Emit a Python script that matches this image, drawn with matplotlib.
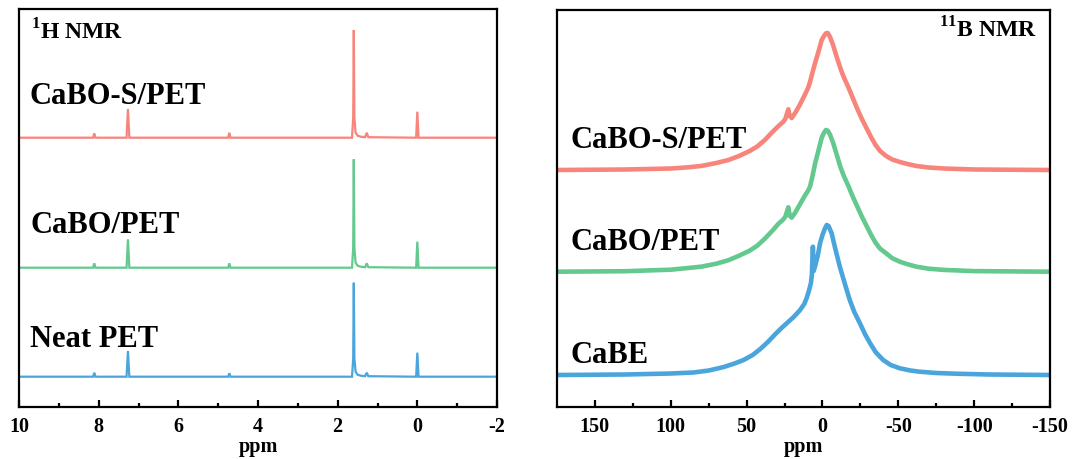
import matplotlib
matplotlib.use("Agg")
import matplotlib.pyplot as plt
from matplotlib.ticker import FixedLocator

plt.rcParams['font.family'] = ['Liberation Serif', 'DejaVu Serif']
plt.rcParams['font.weight'] = 'bold'
plt.rcParams['axes.unicode_minus'] = False
plt.rcParams['mathtext.fontset'] = 'custom'
plt.rcParams['mathtext.rm'] = 'Liberation Serif:bold'
plt.rcParams['mathtext.bf'] = 'Liberation Serif:bold'

# ---------------- 1H NMR data ----------------
h1_ppm = [10.0, 8.14, 8.11, 8.08, 7.30, 7.265, 7.23, 4.75, 4.72, 4.69,
          1.64, 1.61, 1.595, 1.58, 1.55, 1.50, 1.42, 1.31, 1.27, 1.23,
          0.03, 0.0, -0.03, -2.0]
h1_red = [0, 0, 4.4, 0, 0, 28.7, 0, 0, 5.0, 0,
          0, 20, 107.7, 20, 5, 2, 1, 0.5, 5.0, 0.5,
          0, 26, 0, 0]
h1_green = [0, 0, 4.4, 0, 0, 28.4, 0, 0, 4.4, 0,
            0, 20, 108.4, 20, 5, 2, 1, 0.5, 4.4, 0.5,
            0, 26, 0, 0]
h1_blue = [0, 0, 4.0, 0, 0, 25.7, 0, 0, 3.5, 0,
           0, 18, 94.0, 18, 5, 2, 1, 0.5, 4.0, 0.5,
           0, 24, 0, 0]
h1_offsets = [269.3, 139.3, 30.3]
h1_names = ["CaBO-S/PET", "CaBO/PET", "Neat PET"]

# ---------------- 11B NMR data ----------------
b_red_ppm = [175, 130, 100, 90, 80, 70, 62, 55, 48, 43,
             38, 33, 29, 26, 24.5, 22.5, 21.6, 20.3, 18, 15,
             12, 9.5, 8.2, 6.5, 4.9, 2.5, 0.5, -1, -2.3, -3.5,
             -5, -7, -9.4, -12, -14, -17, -20, -23, -26, -29,
             -32, -35, -38, -42, -46, -51, -56, -62, -70, -80,
             -100, -150]
b_red_int = [0, 0.5, 1.5, 2.5, 4, 7, 10, 14, 19, 23.5,
             30, 38, 44, 48, 51, 60.7, 54, 52, 57, 65,
             74, 82, 88, 98, 106.7, 119, 130, 134, 136.7, 137,
             133, 125, 113, 101, 93, 83, 72, 61, 51, 42,
             33, 25, 19, 14, 10.5, 8, 6, 4, 2.5, 1.5,
             0.5, 0]
b_green_ppm = b_red_ppm
b_green_int = [0, 0.5, 2, 3.5, 5, 8, 11.5, 16, 21, 26,
               33, 41, 48, 52, 55, 64.4, 56, 54, 59, 67,
               75, 81, 85, 96, 108, 122, 134, 139, 141.7, 141,
               137, 129, 117, 104, 96, 86, 75, 65, 55, 46,
               37, 29, 23, 18.4, 13.5, 10, 7.5, 5, 3, 1.8,
               0.6, 0]
b_blue_ppm = [175, 130, 100, 85, 75, 65, 58, 52, 46, 41,
              36, 31, 27, 23, 19, 15, 12, 10.4, 8.8, 7.6,
              7.0, 6.3, 5.8, 5.0, 3, 1.6, 0, -1.5, -2.8, -4,
              -6, -8.5, -11.5, -15, -18, -21, -24.7, -28, -31.3, -35,
              -40, -45, -51, -58, -64, -75, -90, -110, -150]
b_blue_int = [0, 0.5, 1.5, 2.5, 4.5, 8, 11.5, 15, 20, 26,
              33, 41, 47, 52.5, 58, 64.5, 71, 77, 85, 92,
              100, 128.3, 104, 108, 120, 131.7, 140, 146, 150, 149,
              142, 126, 108, 90, 75, 63, 51.7, 41, 32, 23,
              15, 10, 6.7, 4.5, 3.3, 2, 1.2, 0.5, 0]
b_offsets = [237.0, 135.3, 32.0]
b_names = ["CaBO-S/PET", "CaBO/PET", "CaBE"]

colors = ["#F8857C", "#63C98F", "#4AA5DC"]

h1_ticks = [10, 8, 6, 4, 2, 0, -2]
h1_minor = [9, 7, 5, 3, 1, -1]
b_ticks = [150, 100, 50, 0, -50, -100, -150]
b_minor = [125, 75, 25, -25, -75, -125]

W, H = 1074, 459
fig = plt.figure(figsize=(W / 100, H / 100), dpi=100)
ax1 = fig.add_axes([19 / W, (H - 407) / H, 478 / W, 398 / H])
ax2 = fig.add_axes([557 / W, (H - 407) / H, 493 / W, 397 / H])

# 1H panel
for ints, off, c in zip([h1_red, h1_green, h1_blue], h1_offsets, colors):
    ax1.plot(h1_ppm, [v + off for v in ints], color=c, lw=1.6, solid_joinstyle='miter')
ax1.set_xlim(10, -2)
ax1.set_ylim(0, 398)

# 11B panel
for x, ints, off, c in zip([b_red_ppm, b_green_ppm, b_blue_ppm],
                           [b_red_int, b_green_int, b_blue_int], b_offsets, colors):
    ax2.plot(x, [v + off for v in ints], color=c, lw=3.3)
ax2.set_xlim(175, -150)
ax2.set_ylim(0, 397)

for ax, maj, mnr in [(ax1, h1_ticks, h1_minor), (ax2, b_ticks, b_minor)]:
    ax.xaxis.set_major_locator(FixedLocator(maj))
    ax.xaxis.set_minor_locator(FixedLocator(mnr))
    ax.set_xticklabels([str(t) for t in maj])
    ax.set_yticks([])
    ax.tick_params(axis='x', which='major', direction='in', length=5, width=1.6,
                   labelsize=14.5, pad=7)
    ax.tick_params(axis='x', which='minor', direction='in', length=3, width=1.6)
    for s in ax.spines.values():
        s.set_linewidth(1.6)
    ax.set_xlabel("ppm", fontsize=14.5, fontweight='bold', labelpad=0)

# panel titles
fig.text(31 / W, (H - 40) / H, r"$^{1}$H NMR",
         fontsize=17, fontweight='bold', ha='left', va='baseline')
fig.text(1037 / W, (H - 37) / H, r"$^{11}$B NMR",
         fontsize=17, fontweight='bold', ha='right', va='baseline')

# sample labels
h1_label_pos = [(30, 104), (31, 233), (30, 347)]
for name, (px, py) in zip(h1_names, h1_label_pos):
    fig.text(px / W, (H - py) / H, name, fontsize=22, fontweight='bold',
             ha='left', va='baseline')
b_label_pos = [(570, 148), (570, 250), (570, 363)]
for name, (px, py) in zip(b_names, b_label_pos):
    fig.text(px / W, (H - py) / H, name, fontsize=22, fontweight='bold',
             ha='left', va='baseline')

fig.savefig("out.png", dpi=100)
